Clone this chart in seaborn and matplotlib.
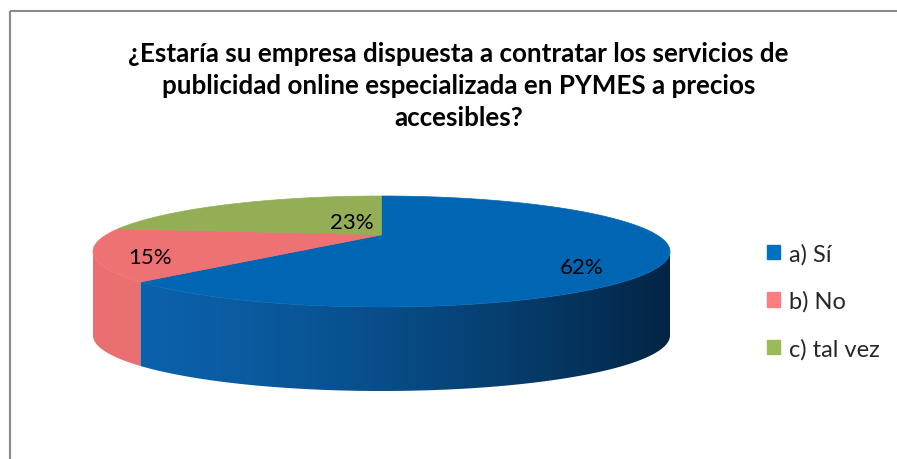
import numpy as np
import matplotlib
matplotlib.use("Agg")
import matplotlib.pyplot as plt
from matplotlib.patches import Polygon, Patch, Rectangle
import seaborn as sns

# ---- data ----
categories = ["a) Sí", "b) No", "c) tal vez"]
values = [62, 15, 23]
pct_labels = ["62%", "15%", "23%"]
title = ("¿Estaría su empresa dispuesta a contratar los servicios de\n"
         "publicidad online especializada en PYMES a precios\naccesibles?")

# ---- style ----
top_colors = ["#0066B3", "#EE7274", "#93AE55"]
legend_colors = ["#0070C0", "#FF7C80", "#9BBB59"]
side_light = [np.array([0x0b, 0x63, 0xae]) / 255, np.array([0xea, 0x70, 0x72]) / 255]
side_dark = [np.array([0x03, 0x25, 0x44]) / 255, np.array([0xdc, 0x66, 0x68]) / 255]

sns.set_theme(style="white")
plt.rcParams["font.family"] = ["Lato", "DejaVu Sans"]

W, H = 897, 460
fig = plt.figure(figsize=(W / 100, H / 100), dpi=100)
ax = fig.add_axes([0, 0, 1, 1])
ax.set_xlim(0, W)
ax.set_ylim(H, 0)
ax.axis("off")

# layout of the 3D pie (pixel space)
k = 0.30                     # perspective strength
half_w = 288.5
A = half_w * np.sqrt(1 - k ** 2)
top_y, front_y = 197, 308
B = (front_y - top_y) * (1 - k ** 2) / 2
cx = 381.5
cy = top_y + B / (1 + k)
depth = 84


def proj(theta_deg, r=1.0):
    t = np.radians(theta_deg)
    X = r * np.sin(t)
    Z = r * np.cos(t)
    den = 1 + k * Z
    return cx + A * X / den, cy - B * Z / den


total = float(sum(values))
bounds = np.concatenate([[0], np.cumsum(values)]) / total * 360.0
vis_lo = np.degrees(np.arccos(-k))          # right silhouette
vis_hi = 360 - vis_lo                        # left silhouette
x_left, x_right = cx - half_w, cx + half_w

# side walls with horizontal gradient
gx = np.linspace(0, 1, 600)
for i in range(len(values)):
    a0, a1 = bounds[i], bounds[i + 1]
    s0, s1 = max(a0, vis_lo), min(a1, vis_hi)
    if s1 <= s0:
        continue
    ths = np.linspace(s0, s1, 300)
    topp = [proj(t) for t in ths]
    pts = topp + [(x, y + depth) for (x, y) in topp[::-1]]
    poly = Polygon(pts, closed=True, facecolor="none", edgecolor="none")
    ax.add_patch(poly)
    f = np.clip(gx, 0, 1) ** 1.5
    grad = side_light[i][None, :] * (1 - f[:, None]) + side_dark[i][None, :] * f[:, None]
    im = ax.imshow(grad[None, :, :], extent=(x_left, x_right, front_y + depth + 5, top_y),
                   aspect="auto", interpolation="bilinear", zorder=1)
    im.set_clip_path(poly)

# top wedges
for i in range(len(values)):
    a0, a1 = bounds[i], bounds[i + 1]
    ths = np.linspace(a0, a1, 200)
    pts = [(cx, cy)] + [proj(t) for t in ths]
    ax.add_patch(Polygon(pts, closed=True, facecolor=top_colors[i],
                         edgecolor=top_colors[i], lw=0.5, zorder=2))

# percentage labels
label_frac = [0.582, 0.404, 0.758]
label_r = [0.80, 0.83, 0.35]
for i in range(len(values)):
    a0, a1 = bounds[i], bounds[i + 1]
    th = a0 + (a1 - a0) * label_frac[i]
    lx, ly = proj(th, label_r[i])
    ax.text(lx, ly + 2, pct_labels[i], ha="center", va="center", fontsize=16,
            color="black", zorder=3)

# title
ax.text(W / 2 + 10, 86, title, ha="center", va="center", fontsize=18.7,
        fontweight="bold", color="black", linespacing=1.4)

# legend
handles = [Patch(facecolor=c, edgecolor=c) for c in legend_colors]
ax.legend(handles, categories, loc="center left", bbox_to_anchor=(767 / W, 1 - 302 / H),
          frameon=False, fontsize=17, handlelength=0.55, handleheight=0.55,
          handletextpad=0.4, labelspacing=1.1, borderpad=0, borderaxespad=0)

# chart border
ax.add_patch(Rectangle((9.5, 11.5), W, H, fill=False, edgecolor="#8a8a8a", lw=1.5))

fig.savefig("out.png", dpi=100)
